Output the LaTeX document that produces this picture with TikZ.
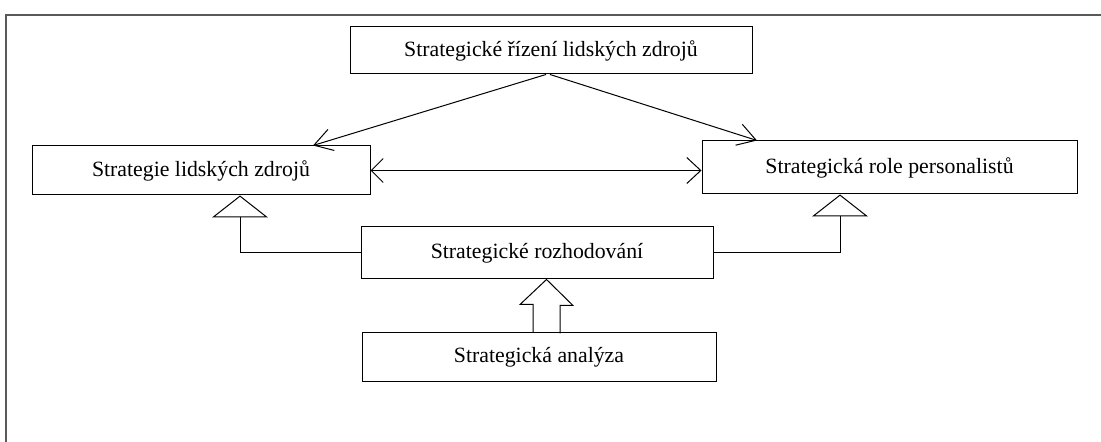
\documentclass[tikz,border=0pt]{standalone}
\usepackage{fontspec}
\setmainfont{Liberation Serif}
\usetikzlibrary{arrows.meta,calc}

\tikzset{blok/.style = {draw, rectangle, minimum width = #1, inner sep = 0pt,
                        font = \fontsize{10.9}{13}\selectfont},
         blok/.default = 170pt,
         sipka/.style = {-{Straight Barb[length=9pt, width=11pt]}},
         dvojsipka/.style = {{Straight Barb[length=6pt, width=12pt]}-{Straight Barb[length=7pt, width=13pt]}},
         dedicnost/.style = {-{Triangle[open, length=11pt, width=28pt]}}
        }

\begin{document}
\begin{tikzpicture}[x=0.5pt, y=-0.5pt, line width=0.5pt]
  \useasboundingbox (0,0) rectangle (1101,442);
  % ramecek
  \draw[gray!70!black, line width=1pt] (6,442) -- (6,15) -- (1101,15);

  \node[blok=201pt, minimum height=23.5pt] (hlavni) at (551,50.5) {Strategické řízení lidských zdrojů};
  \node[blok=169pt, minimum height=24.5pt] (strategie) at (201,170.5) {Strategie lidských zdrojů};
  \node[blok=187.5pt, minimum height=26.5pt] (role) at (889.5,167.5) {Strategická role personalistů};
  \node[blok=176pt, minimum height=26pt] (rozhodovani) at (537,253) {Strategické rozhodování};
  \node[blok=177pt, minimum height=24.5pt] (analyza) at (539,357.5) {Strategická analýza};

  % sipky
  \draw[sipka] ($(hlavni.south)+(-5,0)$) -- ($(strategie.north)+(112,0)$);
  \draw[sipka] ($(hlavni.south)+(-1,0)$) -- ($(role.north)+(-132.5,0)$);
  \draw[dvojsipka] (strategie.east) -- (strategie.east -| role.west);
  \draw[dedicnost] (rozhodovani.west) -| ($(strategie.south)+(39,0)$);
  \draw[dedicnost] (rozhodovani.east) -| ($(role.south)+(-49.5,0)$);

  % blokova sipka
  \coordinate (paticka) at ($(analyza.north)+(7.5,0)$);
  \draw (paticka) ++(-13.5,0) -- ++(0,-28) -- ++(-13,0) -- (rozhodovani.south -| paticka)
        -- ++(26.5,26) -- ++(-13,0) -- ++(0,28);
\end{tikzpicture}
\end{document}
